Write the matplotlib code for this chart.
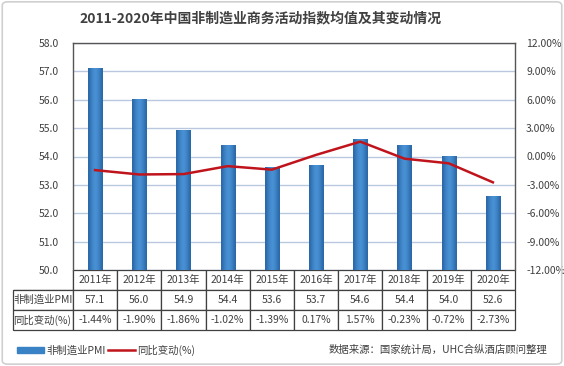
import matplotlib.pyplot as plt
import matplotlib.patches as mpatches
import matplotlib.lines as mlines
from matplotlib.colors import LinearSegmentedColormap
import numpy as np

plt.rcParams['font.family'] = ['Noto Sans CJK SC', 'DejaVu Sans']

years = ['2011年', '2012年', '2013年', '2014年', '2015年',
         '2016年', '2017年', '2018年', '2019年', '2020年']
pmi = [57.1, 56.0, 54.9, 54.4, 53.6, 53.7, 54.6, 54.4, 54.0, 52.6]
change = [-1.44, -1.90, -1.86, -1.02, -1.39, 0.17, 1.57, -0.23, -0.72, -2.73]
pmi_labels = ['57.1', '56.0', '54.9', '54.4', '53.6', '53.7', '54.6', '54.4', '54.0', '52.6']
change_labels = ['-1.44%', '-1.90%', '-1.86%', '-1.02%', '-1.39%',
                 '0.17%', '1.57%', '-0.23%', '-0.72%', '-2.73%']

TXT = '#404040'
fig = plt.figure(figsize=(5.64, 3.66), dpi=100)
fig.patches.append(mpatches.FancyBboxPatch((0.004, 0.005), 0.992, 0.99,
                   boxstyle='round,pad=0,rounding_size=0.01',
                   transform=fig.transFigure, fill=False, ec='#D0D0D0', lw=1.2))

ax = fig.add_axes([73/564, 1-270/366, 442/564, 227/366])
x = np.arange(len(years))
bars = ax.bar(x, pmi, width=0.32, bottom=0, color='#3A82C6', zorder=3)

# gradient fill for bars
grad = np.array([[0.0, 0.5, 0.8, 1.0, 0.8, 0.5, 0.0]])
cmap = LinearSegmentedColormap.from_list('b', ['#2A68A8', '#4A93D6'])
for b in bars:
    bx, bw, bh = b.get_x(), b.get_width(), b.get_height()
    ax.imshow(grad, extent=[bx, bx + bw, 50, bh], cmap=cmap, aspect='auto',
              interpolation='bicubic', zorder=4)
ax.set_xlim(-0.5, 9.5)
ax.set_ylim(50, 58)

ax.set_yticks(np.arange(50, 58.1, 1))
ax.set_yticklabels(['%.1f' % v for v in np.arange(50, 58.1, 1)])
ax.yaxis.grid(True, color='#B9C8DE', lw=1, zorder=0)
ax.set_axisbelow(True)
ax.tick_params(axis='y', length=0, pad=10, labelsize=7.5, labelcolor=TXT)
ax.set_xticks([])
for s in ['left', 'right', 'top']:
    ax.spines[s].set_color('#555555')
    ax.spines[s].set_linewidth(1)
ax.spines['bottom'].set_visible(False)

ax2 = ax.twinx()
ax2.plot(x, change, color='#C0141C', lw=1.8, zorder=5, solid_joinstyle='round')
ax2.set_ylim(-12, 12)
ax2.set_yticks(np.arange(-12, 12.1, 3))
ax2.set_yticklabels(['%.2f%%' % v for v in np.arange(-12, 12.1, 3)])
ax2.tick_params(axis='y', length=0, pad=8, labelsize=7.5, labelcolor=TXT)
for s in ax2.spines.values():
    s.set_visible(False)

# data table under the chart
cells = [[''] + years,
         ['非制造业PMI'] + pmi_labels,
         ['同比变动(%)'] + change_labels]
widths = [60] + [44.2] * 10
tbl = ax.table(cellText=cells, colWidths=widths, cellLoc='center',
               bbox=[-60/442, -60/227, 502/442, 60/227])
tbl.auto_set_font_size(False)
tbl.set_fontsize(7.5)
for (r, c), cell in tbl.get_celld().items():
    cell.set_edgecolor('#404040')
    cell.set_linewidth(0.9)
    cell.get_text().set_color(TXT)
    if r == 0 and c == 0:
        cell.visible_edges = 'BR'
    if c == 0:
        cell.get_text().set_ha('left')
        cell.PAD = 0.0

fig.text(261/564, 1-18/366, '2011-2020年中国非制造业商务活动指数均值及其变动情况',
         ha='center', va='center', fontsize=10, fontweight='bold', color=TXT)

# legend
h1 = mpatches.Patch(color='#3A82C6')
h2 = mlines.Line2D([], [], color='#C0141C', lw=1.8)
fig.legend([h1, h2], ['非制造业PMI', '同比变动(%)'], loc='center left',
           bbox_to_anchor=(8/564, 1-350/366), frameon=False, ncol=2,
           fontsize=7.5, handlelength=2.6, handleheight=0.5, handletextpad=0.2,
           columnspacing=0.2, labelcolor=TXT)
fig.text(547/564, 1-350/366, '数据来源：国家统计局，UHC合纵酒店顾问整理',
         ha='right', va='center', fontsize=7.5, color=TXT)

fig.savefig('out.png', dpi=100)
